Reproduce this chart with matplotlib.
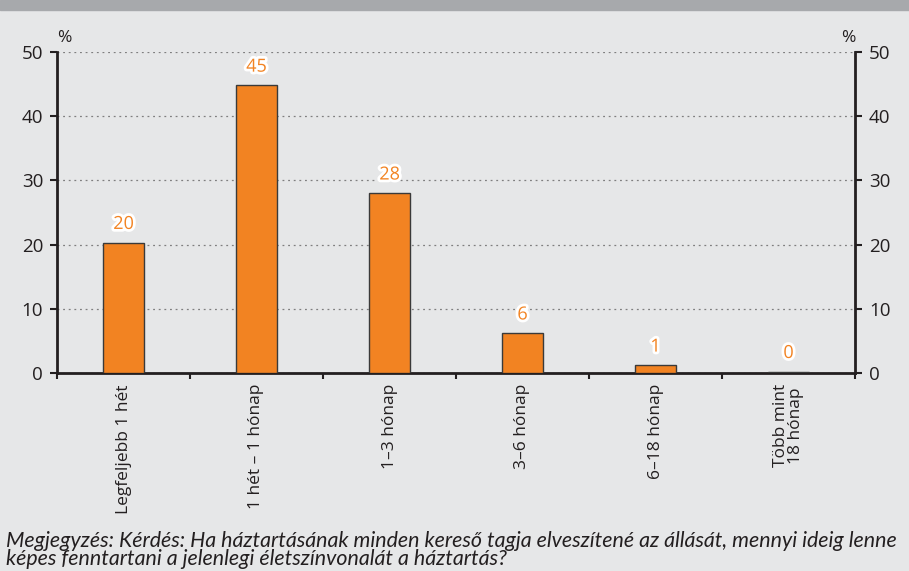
import matplotlib.pyplot as plt
import matplotlib.patheffects as pe
from matplotlib.patches import Rectangle
import numpy as np

categories = ['Legfeljebb 1 hét', '1 hét – 1 hónap', '1–3 hónap', '3–6 hónap',
              '6–18 hónap', 'Több mint\n18 hónap']
values = [20.3, 44.8, 28.0, 6.2, 1.2, 0.2]
labels = ['20', '45', '28', '6', '1', '0']
yticks = [0, 10, 20, 30, 40, 50]
note = ('Megjegyzés: Kérdés: Ha háztartásának minden kereső tagja elveszítené az állását, '
        'mennyi ideig lenne\nképes fenntartani a jelenlegi életszínvonalát a háztartás?')

bg = '#e6e7e8'
orange = '#f28322'
dark = '#231f20'

plt.rcParams['font.family'] = ['Open Sans', 'DejaVu Sans']

fig = plt.figure(figsize=(9.09, 5.71), dpi=100, facecolor=bg)
fig.patches.append(Rectangle((0, 1 - 10 / 571), 1, 10 / 571, transform=fig.transFigure,
                             color='#a7a9ac', zorder=0))

ax = fig.add_axes([57 / 909, 1 - 373 / 571, 798 / 909, 321 / 571])
ax.set_facecolor(bg)

x = np.arange(len(categories))
ax.bar(x, values, width=0.31, color=orange, edgecolor='#3a3a3a', linewidth=1, zorder=3)

for xi, v, lab in zip(x, values, labels):
    ax.annotate(lab, (xi, v), xytext=(0, 7), textcoords='offset points',
                ha='center', va='bottom', color=orange, fontsize=13,
                path_effects=[pe.withStroke(linewidth=4, foreground='white')], zorder=4)

ax.set_xlim(-0.5, len(categories) - 0.5)
ax.set_ylim(0, 50)
ax.set_yticks(yticks)
ax.yaxis.grid(True, linestyle=(0, (1.5, 3)), color='#7f7f7f', linewidth=0.9)
ax.set_axisbelow(True)

ax.tick_params(axis='y', which='both', labelsize=13.5, colors=dark, length=5, width=1.5,
               direction='out', left=True, right=True, labelleft=True, labelright=True,
               pad=5)

# category boundaries as tick marks, labels at centres
ax.set_xticks(np.arange(-0.5, len(categories) + 0.5, 1))
ax.set_xticklabels([])
ax.set_xticks(x, minor=True)
ax.set_xticklabels(categories, minor=True, rotation=90, fontsize=12.5, color=dark,
                   va='top', ha='center', multialignment='center', linespacing=0.95)
ax.tick_params(axis='x', which='major', length=4, width=1.5, direction='out', colors=dark)
ax.tick_params(axis='x', which='minor', length=0, pad=8)

for side in ['left', 'right', 'bottom']:
    ax.spines[side].set_linewidth(2)
    ax.spines[side].set_color(dark)
ax.spines['top'].set_visible(False)

ax.text(0.0, 1.02, '%', transform=ax.transAxes, fontsize=12.5, color=dark, ha='left', va='bottom')
ax.text(1.0, 1.02, '%', transform=ax.transAxes, fontsize=12.5, color=dark, ha='right', va='bottom')

fig.text(6 / 909, 1 - 550 / 571, note, fontsize=15.4, style='italic', color=dark,
         family=['Lato', 'DejaVu Sans'], ha='left', va='center',
         linespacing=0.92)

fig.savefig('out.png', dpi=100, facecolor=bg)
